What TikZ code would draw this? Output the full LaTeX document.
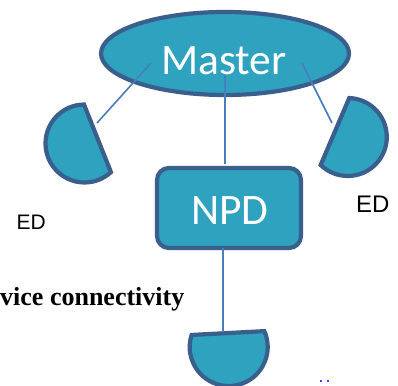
\documentclass[tikz,border=0pt]{standalone}
\usepackage{fontspec}
\setmainfont{Liberation Sans}
\newfontfamily\calib{Carlito}
\newfontfamily\tnr{Liberation Serif}
\usetikzlibrary{shapes.geometric}
\definecolor{shapefill}{HTML}{2EA2BF}
\definecolor{shapeline}{HTML}{3A5F8C}
\definecolor{linkline}{HTML}{4A7EBB}
\newcommand\EDseg[2]{\draw[shapestyle] (#1) ++({#2+69}:39) arc[start angle={#2+69}, end angle={#2+291}, radius=39] -- cycle;}
\begin{document}
\begin{tikzpicture}[x=1pt,y=1pt,
  shapestyle/.style={fill=shapefill,draw=shapeline,line width=4.2pt},
  link/.style={draw=linkline,line width=1.6pt},
  whitetext/.style={anchor=base,text=white,inner sep=0,font=\calib\fontsize{43.5}{43.5}\selectfont},
  label/.style={anchor=base west,inner sep=0}]
\useasboundingbox (0,0) rectangle (398,385);
% ED segments
\coordinate (edL) at (84.5,241.5);
\coordinate (edR) at (347.8,248);
\coordinate (edB) at (228.7,38);
\EDseg{edL}{21.7}
\EDseg{edR}{156.9}
\EDseg{edB}{93}
% Master and NPD
\node[ellipse,shapestyle,minimum width=248pt,minimum height=83pt,inner sep=0] (master) at (225,331.5) {};
\node[rectangle,rounded corners=12pt,shapestyle,minimum width=144pt,minimum height=80pt,inner sep=0] (npd) at (229,177) {};
\node[whitetext] (mastertxt) at (224,310) {Master};
\node[whitetext] (npdtxt) at (230,160) {NPD};
% connectors
\coordinate (lA) at (151,322); \coordinate (lB) at (97,262);
\coordinate (mA) at (225,310); \coordinate (mB) at (225,221);
\coordinate (rA) at (302,322); \coordinate (rB) at (332,262);
\coordinate (bA) at (222.7,137); \coordinate (bB) at (222.7,53);
\draw[link] (lA) -- (lB);
\draw[link] (mA) -- (mB);
\draw[link] (rA) -- (rB);
\draw[link] (bA) -- (bB);
% labels
\node[label,font=\fontsize{21}{21}\selectfont] (edLlabel) at (16.5,155) {ED};
\node[label,font=\fontsize{24}{24}\selectfont] (edRlabel) at (356,172) {ED};
\node[label,font=\tnr\bfseries\fontsize{26}{26}\selectfont] (conn) at (0,79) {vice connectivity};
\fill[blue] (321,4) circle (1.2);
\fill[blue] (328,4) circle (1.2);
\end{tikzpicture}
\end{document}
